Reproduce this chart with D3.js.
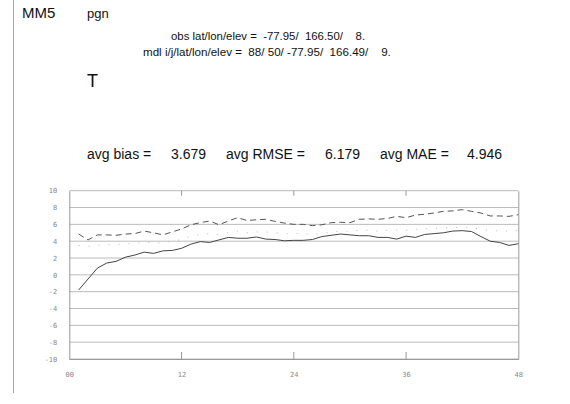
<!DOCTYPE html>
<html>
<head>
<meta charset="utf-8">
<script src="https://cdn.jsdelivr.net/npm/d3@7"></script>
<style>
  body { margin: 0; background: #fff; }
  svg { display: block; }
  .hdr { font-family: "Liberation Sans", Arial, sans-serif; fill: #111; }
  .tick text { font-family: "DejaVu Sans Mono", monospace; font-size: 7px; fill: #888; }
</style>
</head>
<body>
<script>
// forecast hours 1..48
var hours = d3.range(1, 49);

// bias (solid)
var bias = [-1.8, -0.5, 0.8, 1.4, 1.6, 2.1, 2.35, 2.7, 2.55, 2.85, 2.9, 3.15,
            3.65, 3.95, 3.85, 4.15, 4.45, 4.35, 4.35, 4.5, 4.25, 4.2, 4.05, 4.1,
            4.1, 4.2, 4.55, 4.7, 4.85, 4.75, 4.65, 4.65, 4.45, 4.45, 4.25, 4.6,
            4.45, 4.8, 4.9, 5.0, 5.2, 5.25, 5.15, 4.55, 4.0, 3.85, 3.5, 3.7];

// rmse (dashed)
var rmse = [4.85, 4.15, 4.75, 4.75, 4.7, 4.85, 4.9, 5.2, 5.0, 4.75, 5.1, 5.45,
            5.95, 6.2, 6.4, 5.95, 6.4, 6.8, 6.45, 6.55, 6.6, 6.35, 6.15, 6.0,
            6.0, 5.85, 5.95, 6.2, 6.25, 6.2, 6.6, 6.65, 6.6, 6.7, 6.95, 6.8,
            7.1, 7.2, 7.35, 7.55, 7.6, 7.75, 7.55, 7.35, 7.0, 7.0, 6.95, 7.15];

// mae (dotted)
var mae = [3.5, 3.4, 3.5, 3.6, 3.6, 3.7, 3.7, 3.9, 3.8, 3.8, 4.0, 4.2,
           4.6, 4.8, 4.9, 4.8, 5.0, 5.2, 5.0, 5.1, 5.1, 5.0, 4.9, 4.9,
           4.9, 4.8, 4.9, 5.1, 5.2, 5.2, 5.3, 5.3, 5.2, 5.3, 5.3, 5.3,
           5.4, 5.5, 5.5, 5.6, 5.6, 5.7, 5.6, 5.4, 5.3, 5.2, 5.2, 5.3];

var xTicks = [0, 12, 24, 36, 48],
    yTicks = d3.range(-10, 11, 2);

var statLabels = ["avg bias =", "3.679", "avg RMSE =", "6.179", "avg MAE =", "4.946"];

drawChart();

function drawChart(){

    var width = 570, height = 404;

    var svg = d3.select("body")
        .append("svg")
        .attr("width", width)
        .attr("height", height);

    //page border on the left
    svg.append("line")
        .attr("x1", 13.5).attr("x2", 13.5)
        .attr("y1", 0).attr("y2", 393)
        .attr("stroke", "#aaa");

    //header texts
    svg.append("text").attr("class", "hdr").attr("x", 22).attr("y", 18)
        .style("font-size", "15px").text("MM5");
    svg.append("text").attr("class", "hdr").attr("x", 87).attr("y", 18)
        .style("font-size", "13px").text("pgn");
    svg.append("text").attr("class", "hdr").attr("x", 171).attr("y", 40)
        .style("font-size", "11.4px").attr("xml:space", "preserve")
        .text("obs lat/lon/elev =  -77.95/  166.50/    8.");
    svg.append("text").attr("class", "hdr").attr("x", 143).attr("y", 56)
        .style("font-size", "11.6px").attr("xml:space", "preserve")
        .text("mdl i/j/lat/lon/elev =  88/ 50/ -77.95/  166.49/    9.");
    svg.append("text").attr("class", "hdr").attr("x", 87).attr("y", 87)
        .style("font-size", "18px").text("T");

    //averages line, pieces placed one by one
    var statX = [87, 171, 226, 325, 380, 467];
    svg.append("g")
        .selectAll("text")
        .data(statLabels)
        .enter()
        .append("text")
        .attr("class", "hdr")
        .attr("x", (d, i) => statX[i])
        .attr("y", 159)
        .style("font-size", "14px")
        .text(d => d);

    //plot frame
    var x0 = 69.3, x1 = 518.3, y0 = 190.7, y1 = 359;

    var x = d3.scaleLinear().domain([0, 48]).range([x0, x1]);
    var y = d3.scaleLinear().domain([-10, 10]).range([y1, y0]);

    //horizontal grid
    svg.append("g")
        .selectAll("line")
        .data(yTicks)
        .enter()
        .append("line")
        .attr("x1", x0).attr("x2", x1)
        .attr("y1", d => y(d)).attr("y2", d => y(d))
        .attr("stroke", "#bbb");

    //left axis with labels
    svg.append("g")
        .attr("transform", "translate(" + x0 + ",0)")
        .call(d3.axisLeft(y).tickValues(yTicks).tickSize(0).tickPadding(12)
            .tickFormat(d => String(d)))
        .call(g => g.select(".domain").attr("stroke", "#999"));

    //right axis
    svg.append("g")
        .attr("transform", "translate(" + x1 + ",0)")
        .call(d3.axisRight(y).tickValues(yTicks).tickSize(0).tickFormat(""))
        .call(g => g.select(".domain").attr("stroke", "#999"));

    //bottom axis with labels
    svg.append("g")
        .attr("transform", "translate(0," + y1 + ")")
        .call(d3.axisBottom(x).tickValues(xTicks).tickSize(0).tickPadding(13)
            .tickFormat(d => d3.format("02d")(d)))
        .call(g => g.select(".domain").attr("stroke", "#999"));

    //inner ticks at bottom and top
    var inner = xTicks.slice(1, 4);
    svg.append("g")
        .selectAll("line")
        .data(inner)
        .enter()
        .append("line")
        .attr("x1", d => x(d)).attr("x2", d => x(d))
        .attr("y1", y1).attr("y2", y1 - 7)
        .attr("stroke", "#999");
    svg.append("g")
        .selectAll("line")
        .data(inner)
        .enter()
        .append("line")
        .attr("x1", d => x(d)).attr("x2", d => x(d))
        .attr("y1", y0).attr("y2", y0 + 5)
        .attr("stroke", "#999");

    var line = d3.line()
        .x((d, i) => x(hours[i]))
        .y(d => y(d));

    //mae dotted
    svg.append("path")
        .datum(mae)
        .attr("d", line)
        .attr("fill", "none")
        .attr("stroke", "#bbb")
        .attr("stroke-width", 1)
        .attr("stroke-dasharray", "1,9");

    //rmse dashed
    svg.append("path")
        .datum(rmse)
        .attr("d", line)
        .attr("fill", "none")
        .attr("stroke", "#555")
        .attr("stroke-width", 1)
        .attr("stroke-dasharray", "6,4");

    //bias solid
    svg.append("path")
        .datum(bias)
        .attr("d", line)
        .attr("fill", "none")
        .attr("stroke", "#444")
        .attr("stroke-width", 1);
};
</script>
</body>
</html>
